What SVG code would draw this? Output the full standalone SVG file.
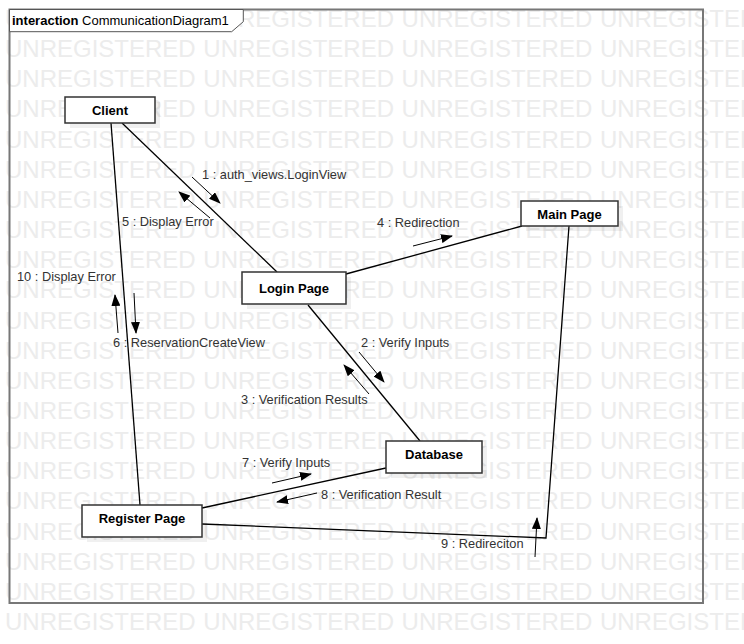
<svg xmlns="http://www.w3.org/2000/svg" width="744" height="644" viewBox="0 0 744 644">
  <style>
    .wm { font-family: "Liberation Sans", Arial, sans-serif; font-size: 24px; fill: #ececec; }
    .frame { fill: none; stroke: #777; stroke-width: 2; }
    .tab { fill: #fff; stroke: #555; stroke-width: 1; }
    .tabtxt { font-family: "Liberation Sans", Arial, sans-serif; font-size: 13px; fill: #000; }
    .box { fill: #fff; stroke: #333; stroke-width: 1.5; }
    .shadow { fill: #000; opacity: 0.06; }
    .name { font-family: "Liberation Sans", Arial, sans-serif; font-size: 13px; font-weight: bold; fill: #000; text-anchor: middle; }
    .link { fill: none; stroke: #000; stroke-width: 1.3; }
    .msg { fill: none; stroke: #000; stroke-width: 1; marker-end: url(#head); }
    .lbl { font-family: "Liberation Sans", Arial, sans-serif; font-size: 12.8px; fill: #333; }
  </style>
  <defs>
    <marker id="head" viewBox="0 0 12 9" refX="11" refY="4.5" markerWidth="12" markerHeight="9" markerUnits="userSpaceOnUse" orient="auto">
      <path d="M0,0 L12,4.5 L0,9 z" fill="#000"/>
    </marker>
    <text id="wmrow" class="wm" x="5">UNREGISTERED<tspan x="203.3">UNREGISTERED</tspan><tspan x="401.6">UNREGISTERED</tspan><tspan x="599.9">UNREGISTERED</tspan></text>
  </defs>

  <rect width="744" height="644" fill="#fff"/>

  <!-- background watermark rows -->
  <g id="watermark">
    <use href="#wmrow" y="27"/>
    <use href="#wmrow" y="57.15"/>
    <use href="#wmrow" y="87.3"/>
    <use href="#wmrow" y="117.45"/>
    <use href="#wmrow" y="147.6"/>
    <use href="#wmrow" y="177.75"/>
    <use href="#wmrow" y="207.9"/>
    <use href="#wmrow" y="238.05"/>
    <use href="#wmrow" y="268.2"/>
    <use href="#wmrow" y="298.35"/>
    <use href="#wmrow" y="328.5"/>
    <use href="#wmrow" y="358.65"/>
    <use href="#wmrow" y="388.8"/>
    <use href="#wmrow" y="418.95"/>
    <use href="#wmrow" y="449.1"/>
    <use href="#wmrow" y="479.25"/>
    <use href="#wmrow" y="509.4"/>
    <use href="#wmrow" y="539.55"/>
    <use href="#wmrow" y="569.7"/>
    <use href="#wmrow" y="599.85"/>
    <use href="#wmrow" y="630"/>
  </g>

  <!-- interaction frame -->
  <g id="frame">
    <rect class="frame" x="9.5" y="9.5" width="693.5" height="593.5"/>
    <path class="tab" d="M9.5,9.5 H243.3 V21.7 L231.7,31.7 H9.5 Z"/>
    <text class="tabtxt" x="12" y="25"><tspan font-weight="bold">interaction</tspan> CommunicationDiagram1</text>
  </g>

  <!-- links between lifelines -->
  <g id="connectors">
    <line class="link" x1="122" y1="123" x2="277" y2="272"/>
    <line class="link" x1="111" y1="123" x2="140" y2="505"/>
    <line class="link" x1="346" y1="274" x2="522" y2="226"/>
    <line class="link" x1="308" y1="305" x2="420" y2="441"/>
    <line class="link" x1="202" y1="508" x2="386" y2="468"/>
    <polyline class="link" points="202,524 546,538 569,226"/>
  </g>

  <!-- messages -->
  <g id="messages">
    <line class="msg" x1="192" y1="177" x2="220" y2="203"/>
    <text class="lbl" x="202" y="179">1 : auth_views.LoginView</text>

    <line class="msg" x1="210" y1="218" x2="179" y2="192"/>
    <text class="lbl" x="122" y="226">5 : Display Error</text>

    <line class="msg" x1="413" y1="246" x2="452" y2="236"/>
    <text class="lbl" x="377" y="227">4 : Redirection</text>

    <line class="msg" x1="118" y1="333" x2="115" y2="295"/>
    <text class="lbl" x="17" y="281">10 : Display Error</text>

    <line class="msg" x1="134" y1="293" x2="136" y2="333"/>
    <text class="lbl" x="113" y="347">6 : ReservationCreateView</text>

    <line class="msg" x1="359" y1="352" x2="384" y2="382"/>
    <text class="lbl" x="361" y="347">2 : Verify Inputs</text>

    <line class="msg" x1="369" y1="394" x2="344" y2="365"/>
    <text class="lbl" x="241" y="404">3 : Verification Results</text>

    <line class="msg" x1="272" y1="483" x2="311" y2="474"/>
    <text class="lbl" x="242" y="467">7 : Verify Inputs</text>

    <line class="msg" x1="317" y1="493" x2="277" y2="502"/>
    <text class="lbl" x="321" y="499">8 : Verification Result</text>

    <line class="msg" x1="535" y1="557" x2="537" y2="518"/>
    <text class="lbl" x="441" y="548">9 : Redireciton</text>
  </g>

  <!-- lifelines -->
  <g id="client">
    <rect class="shadow" x="70" y="102" width="90" height="26"/>
    <rect class="box" x="65" y="97" width="90" height="26"/>
    <text class="name" x="110" y="115">Client</text>
  </g>
  <g id="login-page">
    <rect class="shadow" x="247" y="277" width="104" height="32"/>
    <rect class="box" x="242" y="272" width="104" height="32"/>
    <text class="name" x="294" y="293">Login Page</text>
  </g>
  <g id="main-page">
    <rect class="shadow" x="526" y="206" width="97" height="25"/>
    <rect class="box" x="521" y="201" width="97" height="25"/>
    <text class="name" x="569.5" y="218.5">Main Page</text>
  </g>
  <g id="database">
    <rect class="shadow" x="391" y="446" width="96" height="32"/>
    <rect class="box" x="386" y="441" width="96" height="32"/>
    <text class="name" x="434" y="459">Database</text>
  </g>
  <g id="register-page">
    <rect class="shadow" x="87" y="510" width="120" height="32"/>
    <rect class="box" x="82" y="505" width="120" height="32"/>
    <text class="name" x="142" y="523">Register Page</text>
  </g>
</svg>
